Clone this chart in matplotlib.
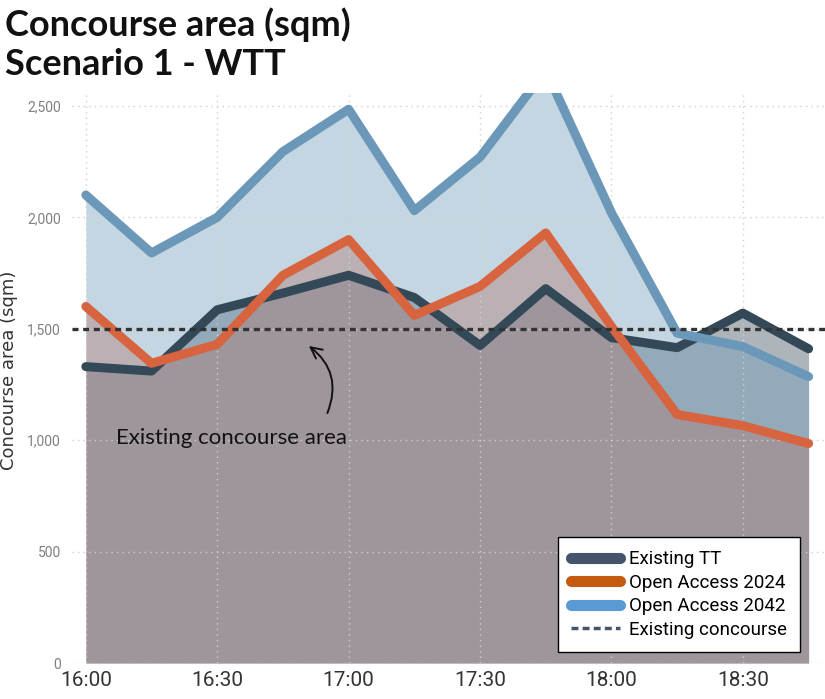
import numpy as np
import matplotlib.pyplot as plt
from matplotlib.lines import Line2D

# データ（15分刻み）
times = ['16:00', '16:15', '16:30', '16:45', '17:00', '17:15',
         '17:30', '17:45', '18:00', '18:15', '18:30', '18:45']
existing_tt = [1330, 1310, 1585, 1660, 1740, 1640, 1425, 1680, 1460, 1415, 1570, 1410]
oa_2024 = [1600, 1345, 1430, 1740, 1900, 1560, 1690, 1930, 1510, 1115, 1065, 985]
oa_2042 = [2100, 1840, 2000, 2295, 2485, 2030, 2270, 2660, 2020, 1480, 1420, 1285]
existing_concourse = 1500
y_ticks = [0, 500, 1000, 1500, 2000, 2500]

x = np.arange(len(times))

narrow = ['Roboto', 'DejaVu Sans']

fig = plt.figure(figsize=(8.25, 6.99), dpi=100)
ax = fig.add_axes([0.0873, 0.0515, 0.9127, 0.8155])

# 塗りつぶし（下から順に）
c_dark = '#344958'
c_orange = '#d8643f'
c_blue = '#6b98b8'
ax.fill_between(x, 0, existing_tt, color=(50/255, 70/255, 85/255), alpha=0.4, lw=0, zorder=1)
ax.fill_between(x, 0, oa_2024, color=(217/255, 100/255, 63/255), alpha=0.4, lw=0, zorder=1)
ax.fill_between(x, 0, oa_2042, color=(110/255, 154/255, 185/255), alpha=0.4, lw=0, zorder=1)

# 線
kw = dict(lw=6.5, solid_capstyle='round', solid_joinstyle='round')
ax.plot(x, existing_tt, color=c_dark, zorder=3, **kw)
ax.plot(x, oa_2024, color=c_orange, zorder=4, **kw)
ax.plot(x, oa_2042, color=c_blue, zorder=3, **kw)

# 既存コンコース面積
ax.axhline(existing_concourse, color='#333333', lw=2.4, dashes=(1.8, 1.4), zorder=5)

ax.set_xlim(-0.21, 11.25)
ax.set_ylim(0, 2558)
ax.set_xticks(x[::2])
ax.set_xticklabels(times[::2], fontsize=15, color='#333333', family=narrow)
ax.set_yticks(y_ticks)
ax.set_yticklabels([f'{v:,}' for v in y_ticks], fontsize=10, color='#808080', family=narrow)
ax.tick_params(length=0)
ax.tick_params(axis='y', pad=8)
ax.tick_params(axis='x', pad=6)
ax.grid(True, color='#d0d0d0', ls=(0, (1, 3)), lw=1, zorder=0)
for s in ax.spines.values():
    s.set_visible(False)

ax.set_ylabel('Concourse area (sqm)', fontsize=13, color='#333333', family='DejaVu Sans')
ax.yaxis.set_label_coords(-0.072, 0.514)

# 注記
ax.text(2.21, 1010, 'Existing concourse area', fontsize=16, family='Lato',
        ha='center', va='center', color='#111111', zorder=6)
ax.annotate('', xy=(3.36, 1430), xytext=(3.66, 1110),
            arrowprops=dict(arrowstyle='->', color='#111111', lw=1.4,
                            connectionstyle='arc3,rad=0.4', mutation_scale=20),
            zorder=6)

# 凡例
handles = [
    Line2D([], [], color='#44546a', lw=8, solid_capstyle='round'),
    Line2D([], [], color='#c55a11', lw=8, solid_capstyle='round'),
    Line2D([], [], color='#5b9bd5', lw=8, solid_capstyle='round'),
    Line2D([], [], color='#44546a', lw=2.5, dashes=(2, 1.2)),
]
labels = ['Existing TT', 'Open Access 2024', 'Open Access 2042', 'Existing concourse']
leg = ax.legend(handles, labels, loc='lower right', bbox_to_anchor=(0.967, 0.019),
                borderaxespad=0, fancybox=False, framealpha=1, edgecolor='black',
                prop={'family': narrow, 'size': 13.5}, handlelength=2.6,
                labelspacing=0.3, handletextpad=0.5, borderpad=0.7)
leg.get_frame().set_linewidth(1)
leg.set_zorder(10)

# タイトル
fig.text(0.006, 0.99, 'Concourse area (sqm)', fontsize=26, fontweight='bold',
         family='Lato', va='top', ha='left', color='#111111')
fig.text(0.006, 0.932, 'Scenario 1 - WTT', fontsize=26, fontweight='bold',
         family='Lato', va='top', ha='left', color='#111111')

fig.savefig('out.png', dpi=100)
